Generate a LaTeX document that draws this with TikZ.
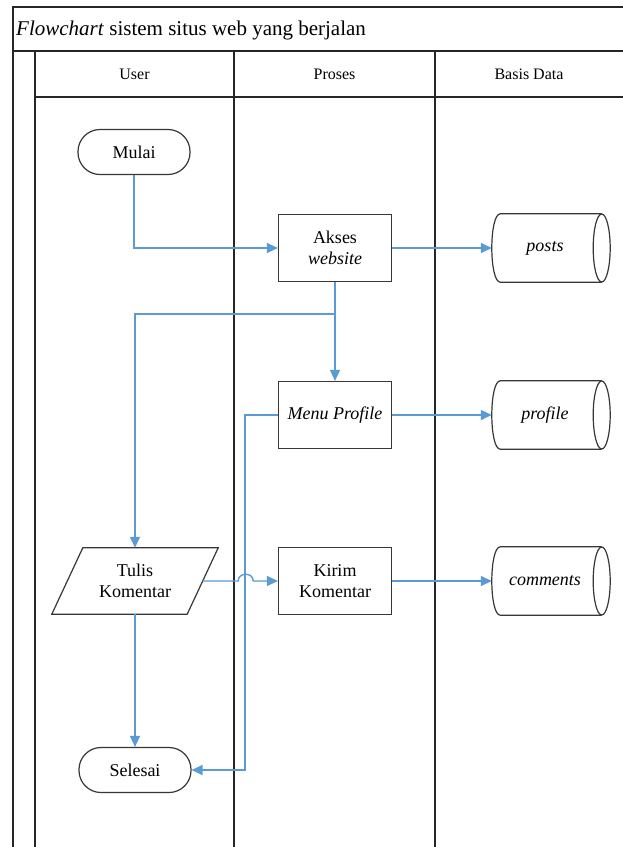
\documentclass[tikz,border=0pt]{standalone}
\usepackage{fontspec}
\setmainfont{Liberation Serif}
\usetikzlibrary{arrows.meta}
\definecolor{flowc}{RGB}{91,155,213}
\definecolor{edgec}{RGB}{55,55,55}
\newcommand\nodefont{\fontsize{18}{21}\selectfont}
\newcommand\dbcyl[1]{%
  \draw[shapeline] ([xshift=-8.5pt]#1.north east) -- ([xshift=8.5pt]#1.north west)
    .. controls ([xshift=-2.83pt]#1.north west) and ([xshift=-2.83pt]#1.south west) ..
    ([xshift=8.5pt]#1.south west) -- ([xshift=-8.5pt]#1.south east);
  \draw[shapeline] ([xshift=-8.5pt]#1.east) ellipse [x radius=8.5pt, y radius=34pt];}
\begin{document}
\begin{tikzpicture}[x=1pt,y=-1pt,
  lane/.style={draw=black!85, line width=1.5pt},
  shapeline/.style={draw=edgec, line width=1.2pt},
  hdr/.style={font=\fontsize{16}{19}\selectfont, inner sep=0pt},
  term/.style={shapeline, rounded corners=22pt, minimum width=112pt, minimum height=45pt, inner sep=0pt, font=\nodefont},
  procbox/.style={shapeline, minimum width=113pt, minimum height=67pt, align=center, inner sep=0pt, font=\nodefont},
  iobox/.style={draw=none, minimum width=135pt, minimum height=66pt, align=center, inner sep=0pt, font=\nodefont},
  dbbox/.style={draw=none, minimum width=118pt, minimum height=68pt, inner sep=0pt, font=\nodefont\itshape},
  flow/.style={draw=flowc, line width=1.4pt, -{Triangle[length=11pt,width=10pt]}}]
\useasboundingbox (0,0) rectangle (623,847);
\fill[white] (0,0) rectangle (623,847);
% swimlane frame
\draw[lane] (623,7) -- (13,7) -- (13,847);
\draw[lane] (13,51) -- (623,51);
\draw[lane] (35,51) -- (35,847);
\draw[lane] (35,97) -- (623,97);
\draw[lane] (234,51) -- (234,847);
\draw[lane] (435,51) -- (435,847);
\node[anchor=west, inner sep=0pt, font=\fontsize{21}{24}\selectfont] (title) at (16,30) {\textit{Flowchart} sistem situs web yang berjalan};
\node[hdr] (hUser) at (134.5,74) {User};
\node[hdr] (hProses) at (334.5,74) {Proses};
\node[hdr] (hBasis) at (529,74) {Basis Data};
% nodes
\node[term] (mulai) at (134,152) {Mulai};
\node[procbox] (akses) at (335,248) {Akses\\\textit{website}};
\node[procbox] (menu) at (335,415) {\textit{Menu Profile}};
\node[procbox] (kirim) at (335,581) {Kirim\\Komentar};
\node[iobox] (tulis) at (135,581) {Tulis\\Komentar};
\draw[shapeline] ([xshift=15.5pt]tulis.north west) -- ([xshift=15.5pt]tulis.north east)
  -- ([xshift=-15.5pt]tulis.south east) -- ([xshift=-15.5pt]tulis.south west) -- cycle;
\node[term] (selesai) at (135,770) {Selesai};
\node[dbbox] (posts) at (551,248) {\hspace*{-12pt}posts};
\node[dbbox] (profile) at (551,415) {\hspace*{-12pt}profile};
\node[dbbox] (comments) at (551,581) {\hspace*{-12pt}comments};
\dbcyl{posts}
\dbcyl{profile}
\dbcyl{comments}
% connectors
\draw[flow] (mulai.south) |- (akses.west);
\draw[flow] (akses.east) -- (posts.west);
\draw[flow] (akses.south) -- (menu.north);
\draw[flow] (akses.south) -- ++(0,32) -| (tulis.north);
\draw[flow] (menu.east) -- (profile.west);
\draw[flow] (menu.west) -- ++(-33,0) |- (selesai.east);
\draw[flow] (tulis.east) -- ++(35.5,0) .. controls +(0,-9) and +(0,-9) .. ++(15,0) -- (kirim.west);
\draw[flow] (kirim.east) -- (comments.west);
\draw[flow] (tulis.south) -- (selesai.north);
\end{tikzpicture}
\end{document}
